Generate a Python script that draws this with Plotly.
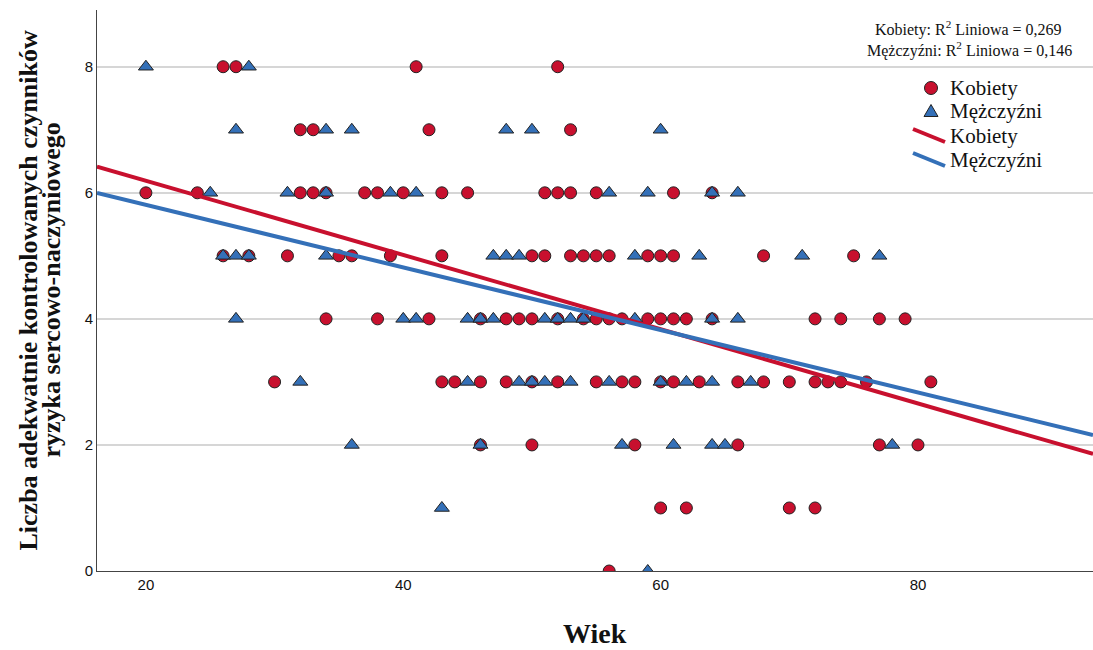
import plotly.graph_objects as go

# Age (Wiek) and number of adequately controlled CV risk factors, by sex
k_age = [26, 27, 41, 52,
         32, 33, 42, 53,
         20, 24, 32, 33, 34, 37, 38, 40, 43, 45, 51, 52, 53, 55, 61, 64,
         26, 28, 31, 35, 36, 39, 43, 50, 51, 53, 54, 55, 56, 59, 60, 61, 68, 75,
         34, 38, 42, 46, 48, 49, 50, 52, 54, 55, 56, 57, 59, 60, 61, 62, 64, 72, 74, 77, 79,
         30, 43, 44, 46, 48, 50, 52, 55, 57, 58, 60, 61, 63, 66, 68, 70, 72, 73, 74, 76, 81,
         46, 50, 58, 66, 77, 80,
         60, 62, 70, 72,
         56]
k_val = [8] * 4 + [7] * 4 + [6] * 16 + [5] * 18 + [4] * 21 + [3] * 21 + [2] * 6 + [1] * 4 + [0] * 1

m_age = [20, 28,
         27, 34, 36, 48, 50, 60,
         25, 31, 34, 39, 41, 56, 59, 64, 66,
         26, 27, 28, 34, 47, 48, 49, 58, 63, 71, 77,
         27, 40, 41, 45, 46, 47, 51, 52, 53, 54, 58, 64, 66,
         32, 45, 49, 50, 51, 53, 56, 60, 62, 64, 67,
         36, 46, 57, 61, 64, 65, 78,
         43,
         59]
m_val = [8] * 2 + [7] * 6 + [6] * 9 + [5] * 11 + [4] * 13 + [3] * 11 + [2] * 7 + [1] * 1 + [0] * 1

# Linear fit lines (intercept, slope) and their R² values
k_fit = (7.37, -0.0589)
m_fit = (6.80, -0.0496)
k_r2 = "0,269"
m_r2 = "0,146"

x_range = [16.2, 93.6]
y_range = [0, 8.9]
x_ticks = [20, 40, 60, 80]
y_ticks = [0, 2, 4, 6, 8]

x_title = "Wiek"
y_title_lines = ["Liczba adekwatnie kontrolowanych czynników",
                 "ryzyka sercowo-naczyniowego"]
group_names = ["Kobiety", "Mężczyźni"]

RED = "#c8102e"
BLUE = "#3470b8"
EDGE = "#222222"
INK = "#111111"
SERIF = "Liberation Serif, Times New Roman, serif"
SANS = "Liberation Sans, Arial, sans-serif"

W, H = 1093, 650
M_L, M_R, M_T, M_B = 97, 0, 10, 79
plot_w = W - M_L - M_R
plot_h = H - M_T - M_B


def px_x(p):
    """Pixel column -> paper x."""
    return (p - M_L) / plot_w


def px_y(p):
    """Pixel row -> paper y."""
    return 1 - (p - M_T) / plot_h


fig = go.Figure()

fig.add_trace(go.Scatter(
    x=k_age, y=k_val, mode="markers", name=group_names[0], showlegend=False,
    marker=dict(symbol="circle", size=12, color=RED, line=dict(color=EDGE, width=1)),
))
fig.add_trace(go.Scatter(
    x=m_age, y=m_val, mode="markers", name=group_names[1], showlegend=False,
    marker=dict(symbol="triangle-up", size=13, color=BLUE, line=dict(color=EDGE, width=1)),
))

fx = list(x_range)
fig.add_trace(go.Scatter(
    x=fx, y=[k_fit[0] + k_fit[1] * v for v in fx], mode="lines",
    name=group_names[0], showlegend=False, line=dict(color=RED, width=4),
))
fig.add_trace(go.Scatter(
    x=fx, y=[m_fit[0] + m_fit[1] * v for v in fx], mode="lines",
    name=group_names[1], showlegend=False, line=dict(color=BLUE, width=4),
))

# R² notes in the top-right corner
for row_y, right, name, r2 in [(28, 1064, group_names[0], k_r2),
                               (50, 1074, group_names[1], m_r2)]:
    fig.add_annotation(
        xref="paper", yref="paper", x=px_x(right), y=px_y(row_y),
        xanchor="right", yanchor="middle", showarrow=False,
        text=f"{name}: R<sup>2</sup> Liniowa = {r2}",
        font=dict(family=SERIF, size=16, color=INK),
    )

# Legend: marker glyphs, diagonal line glyphs and labels
LEG_X, LEG_TXT = 931, 948
leg_rows = [88, 111, 136, 160]
shapes = [
    dict(type="circle", xref="paper", yref="paper",
         x0=px_x(LEG_X - 6.5), x1=px_x(LEG_X + 6.5),
         y0=px_y(leg_rows[0] + 6.5), y1=px_y(leg_rows[0] - 6.5),
         fillcolor=RED, line=dict(color=EDGE, width=1)),
    dict(type="path", xref="paper", yref="paper",
         path=(f"M {px_x(LEG_X - 7)},{px_y(leg_rows[1] + 5.5)} "
               f"L {px_x(LEG_X + 7)},{px_y(leg_rows[1] + 5.5)} "
               f"L {px_x(LEG_X)},{px_y(leg_rows[1] - 6.5)} Z"),
         fillcolor=BLUE, line=dict(color=EDGE, width=1)),
]
for row_y, col in [(leg_rows[2], RED), (leg_rows[3], BLUE)]:
    shapes.append(dict(type="line", xref="paper", yref="paper",
                       x0=px_x(913), y0=px_y(row_y - 7),
                       x1=px_x(945), y1=px_y(row_y + 6),
                       line=dict(color=col, width=4)))
for row_y, name in zip(leg_rows, group_names + group_names):
    fig.add_annotation(
        xref="paper", yref="paper", x=px_x(LEG_TXT), y=px_y(row_y),
        xanchor="left", yanchor="middle", showarrow=False,
        text=name, font=dict(family=SERIF, size=21, color=INK),
    )

# Axis titles
fig.add_annotation(
    xref="paper", yref="paper", x=0.5, y=px_y(633),
    xanchor="center", yanchor="middle", showarrow=False,
    text=f"<b>{x_title}</b>", font=dict(family=SERIF, size=28, color=INK),
)
for col_x, line in zip([28, 51], y_title_lines):
    fig.add_annotation(
        xref="paper", yref="paper", x=px_x(col_x), y=0.5,
        xanchor="center", yanchor="middle", textangle=-90, showarrow=False,
        text=f"<b>{line}</b>", font=dict(family=SERIF, size=26, color=INK),
    )

fig.update_layout(
    width=W, height=H,
    margin=dict(l=M_L, r=M_R, t=M_T, b=M_B),
    paper_bgcolor="white", plot_bgcolor="white",
    showlegend=False,
    shapes=shapes,
    xaxis=dict(
        range=x_range, tickvals=x_ticks, showgrid=False, zeroline=False,
        showline=True, linecolor="#444444", linewidth=1, ticks="",
        tickfont=dict(family=SANS, size=15, color=INK),
    ),
    yaxis=dict(
        range=y_range, tickvals=y_ticks, showgrid=True, gridcolor="#d6d6d6",
        gridwidth=1.5, zeroline=False, showline=True, linecolor="#444444",
        linewidth=1, ticks="",
        tickfont=dict(family=SANS, size=15, color=INK),
    ),
)

fig.write_html("out.html")
